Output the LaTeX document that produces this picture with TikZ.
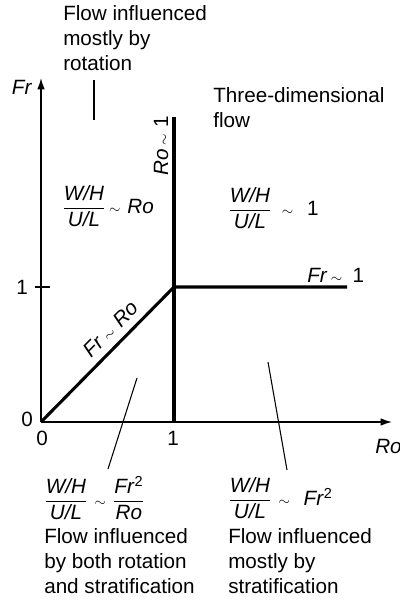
\documentclass[tikz,border=0pt]{standalone}
\usepackage{amsmath}
\usepackage{fontspec}
\setmainfont{Liberation Sans}
\usetikzlibrary{arrows.meta}
\newcommand{\wh}{$\dfrac{\textit{W/H}}{\textit{U/L}}$}
\newcommand{\sm}{{\fontsize{11}{12}\selectfont$\sim$}}
\tikzset{
  axis/.style={-{Latex[length=3mm,width=2mm]},line width=1.1pt},
  bound/.style={line width=2.3pt},
  pointer/.style={line width=0.8pt},
  tick/.style={line width=1pt},
  txt/.style={align=left,inner sep=0pt,font=\fontsize{15.5}{18.8}\selectfont},
  num/.style={inner sep=0pt,font=\fontsize{15.5}{18.8}\selectfont}}
\begin{document}
\begin{tikzpicture}[x=0.75pt,y=-0.75pt]
  \useasboundingbox (0,0) rectangle (399,602);
  % axes and regime boundaries
  \coordinate (o) at (41,422);
  \coordinate (frtop) at (41,78);
  \coordinate (roend) at (392,422);
  \coordinate (c) at (174,287);
  \coordinate (ctop) at (174,117);
  \coordinate (cend) at (347,287);
  \draw[axis] (o) -- (frtop);
  \draw[axis] (o) -- (roend);
  \draw[tick] (o |- c) ++(-6,0) -- ++(15,0);
  \draw[bound] (o) -- (c) -- (cend);
  \draw[bound] (o -| c) -- (ctop);
  % axis labels
  \node[num] (frl) at (22,87) {\textit{Fr}};
  \node[num,anchor=west] (rol) at (375,446) {\textit{Ro}};
  \node[num] (zl) at (27,419) {0};
  \node[num] (zb) at (42,438) {0};
  \node[num] (ob) at (173,438) {1};
  \node[num] (ol) at (22,287) {1};
  % boundary labels
  \node[num,rotate=90] (rosim) at (161,146) {\textit{Ro}\,\sm\,\,1};
  \node[num,anchor=west] (frsim) at (307,275) {\textit{Fr}\,\sm\,\,\,1};
  \node[num,rotate=45] (frro) at (111,329) {\textit{Fr}\,\sm\,\,\textit{Ro}};
  % regimes
  \node[txt,anchor=north west] (rot) at (63,5) {Flow influenced\\mostly by\\rotation};
  \node[txt,anchor=north west] (three) at (213,87) {Three-dimensional\\flow};
  \node[num,anchor=west] (rega) at (62,206) {\wh\,\sm\,\,\textit{Ro}};
  \node[num,anchor=west] (regb) at (228,208) {\wh\,\,\,\sm\,\,\,\,1};
  \node[num,anchor=west] (regc) at (44,498) {\wh\,\,\sm\,\,$\dfrac{\mbox{\textit{Fr}\textsuperscript{2}}}{\textit{Ro}}$};
  \node[txt,anchor=north west] (regctxt) at (44,528) {Flow influenced\\by both rotation\\and stratification};
  \node[num,anchor=west] (regd) at (228,498) {\wh\,\,\sm\,\,\,\,\textit{Fr}\textsuperscript{2}};
  \node[txt,anchor=north west] (regdtxt) at (228,528) {Flow influenced\\mostly by\\stratification};
  % pointers
  \coordinate (rott) at (94,80);
  \coordinate (rotp) at (94,120);
  \coordinate (botht) at (108,469);
  \coordinate (bothp) at (137,378);
  \coordinate (stratt) at (287,470);
  \coordinate (stratp) at (268,362);
  \draw[pointer] (rott) -- (rotp);
  \draw[pointer] (botht) -- (bothp);
  \draw[pointer] (stratt) -- (stratp);
\end{tikzpicture}
\end{document}
